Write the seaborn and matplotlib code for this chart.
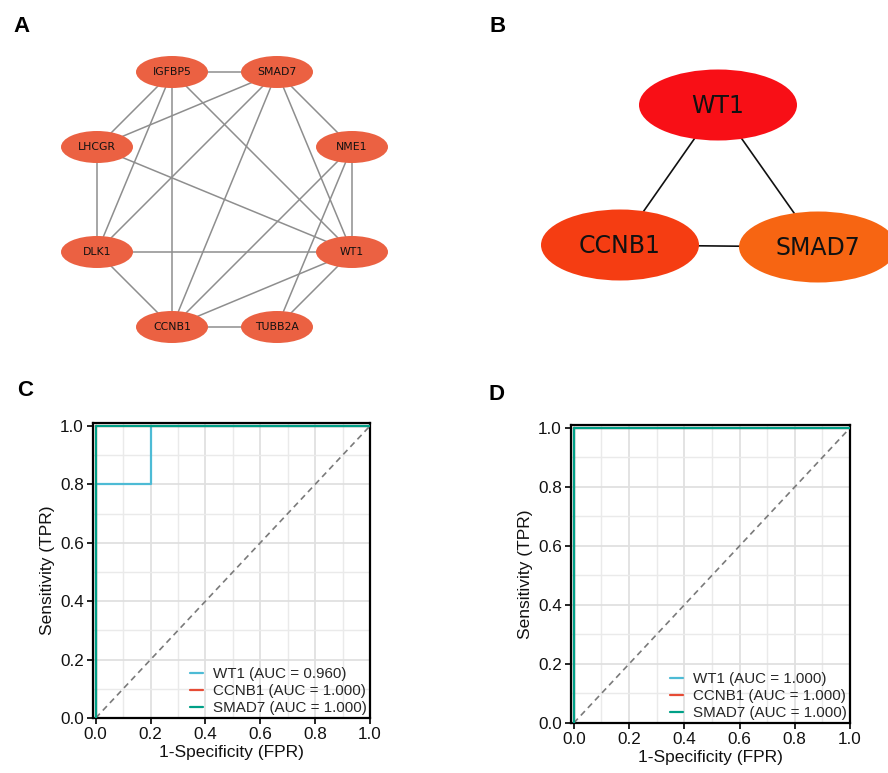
import numpy as np
import pandas as pd
import matplotlib
matplotlib.use("Agg")
import matplotlib.pyplot as plt
from matplotlib.patches import Ellipse
from matplotlib.lines import Line2D
from matplotlib.ticker import MultipleLocator, FormatStrFormatter
import seaborn as sns

# ---- PPI network of candidate genes (panel A), layout in pixels ----
ppi_genes = ["IGFBP5", "SMAD7", "LHCGR", "NME1", "DLK1", "WT1", "CCNB1", "TUBB2A"]
ppi_x = [172, 277, 97, 352, 97, 352, 172, 277]
ppi_y = [72, 72, 147, 147, 252, 252, 327, 327]
ppi_edges = [
    ("IGFBP5", "SMAD7"), ("IGFBP5", "LHCGR"), ("IGFBP5", "DLK1"),
    ("IGFBP5", "CCNB1"), ("IGFBP5", "WT1"),
    ("SMAD7", "LHCGR"), ("SMAD7", "DLK1"), ("SMAD7", "CCNB1"),
    ("SMAD7", "NME1"), ("SMAD7", "WT1"),
    ("LHCGR", "DLK1"), ("LHCGR", "WT1"),
    ("NME1", "WT1"), ("NME1", "CCNB1"), ("NME1", "TUBB2A"),
    ("DLK1", "WT1"), ("DLK1", "CCNB1"),
    ("WT1", "CCNB1"), ("WT1", "TUBB2A"),
    ("CCNB1", "TUBB2A"),
]

# ---- hub genes (panel B) ----
hub_genes = ["WT1", "CCNB1", "SMAD7"]
hub_x = [718, 620, 818]
hub_y = [105, 245, 247]
hub_colors = ["#F80F16", "#F53D12", "#F76512"]
hub_edges = [("WT1", "CCNB1"), ("WT1", "SMAD7"), ("CCNB1", "SMAD7")]

# ---- ROC curves (panels C and D) ----
roc_genes = ["WT1", "CCNB1", "SMAD7"]
roc_colors = ["#4DBBD5", "#E64B35", "#00A087"]

c_fpr = {"WT1": [0.0, 0.0, 0.2, 0.2, 1.0],
         "CCNB1": [0.0, 0.0, 1.0],
         "SMAD7": [0.0, 0.0, 1.0]}
c_tpr = {"WT1": [0.0, 0.8, 0.8, 1.0, 1.0],
         "CCNB1": [0.0, 1.0, 1.0],
         "SMAD7": [0.0, 1.0, 1.0]}

d_fpr = {"WT1": [0.0, 0.0, 1.0],
         "CCNB1": [0.0, 0.0, 1.0],
         "SMAD7": [0.0, 0.0, 1.0]}
d_tpr = {"WT1": [0.0, 1.0, 1.0],
         "CCNB1": [0.0, 1.0, 1.0],
         "SMAD7": [0.0, 1.0, 1.0]}

sns.set_theme(style="white")
plt.rcParams["font.family"] = ["Liberation Sans", "DejaVu Sans"]

W, H = 888, 773
fig = plt.figure(figsize=(W / 100, H / 100), dpi=100)
fig.patch.set_facecolor("white")

# overlay axes in pixel coordinates for the two networks
net = fig.add_axes([0, 0, 1, 1])
net.set_xlim(0, W)
net.set_ylim(H, 0)
net.axis("off")
net.patch.set_visible(False)

pos_a = {g: (x, y) for g, x, y in zip(ppi_genes, ppi_x, ppi_y)}
for a, b in ppi_edges:
    (x0, y0), (x1, y1) = pos_a[a], pos_a[b]
    net.plot([x0, x1], [y0, y1], color="#8E8E8E", lw=1.1, zorder=1,
             solid_capstyle="butt")
for g, (x, y) in pos_a.items():
    net.add_patch(Ellipse((x, y), 72, 32, facecolor="#EB6142",
                          edgecolor="none", zorder=2))
    net.text(x, y, g, ha="center", va="center", fontsize=7.8,
             family="DejaVu Sans", color="#111111", zorder=3)

pos_b = {g: (x, y) for g, x, y in zip(hub_genes, hub_x, hub_y)}
for a, b in hub_edges:
    (x0, y0), (x1, y1) = pos_b[a], pos_b[b]
    net.plot([x0, x1], [y0, y1], color="#111111", lw=1.2, zorder=1)
for g, c in zip(hub_genes, hub_colors):
    x, y = pos_b[g]
    net.add_patch(Ellipse((x, y), 158, 71, facecolor=c,
                          edgecolor="none", zorder=2))
    net.text(x, y + 1, g, ha="center", va="center", fontsize=17,
             family="DejaVu Sans", color="#111111", zorder=3)


def roc_axes(rect, fpr, tpr):
    ax = fig.add_axes(rect)
    rows = []
    for g in roc_genes:
        for k, (f, t) in enumerate(zip(fpr[g], tpr[g])):
            rows.append({"gene": g, "step": k, "fpr": f, "tpr": t})
    df = pd.DataFrame(rows)
    ax.plot([0, 1], [0, 1], ls=(0, (3.6, 2.6)), color="#7A7A7A", lw=1.2,
            zorder=2)
    sns.lineplot(data=df, x="fpr", y="tpr", hue="gene", hue_order=roc_genes,
                 palette=dict(zip(roc_genes, roc_colors)), sort=False,
                 estimator=None, lw=1.6, legend=False, ax=ax, zorder=3)
    ax.set_xlim(-0.01, 1.0)
    ax.set_ylim(0.0, 1.01)
    ax.xaxis.set_major_locator(MultipleLocator(0.2))
    ax.yaxis.set_major_locator(MultipleLocator(0.2))
    ax.xaxis.set_minor_locator(MultipleLocator(0.1))
    ax.yaxis.set_minor_locator(MultipleLocator(0.1))
    ax.xaxis.set_major_formatter(FormatStrFormatter("%.1f"))
    ax.yaxis.set_major_formatter(FormatStrFormatter("%.1f"))
    ax.set_axisbelow(True)
    ax.grid(which="major", color="#E0E0E0", lw=1.3)
    ax.grid(which="minor", color="#EAEAEA", lw=1.0)
    ax.tick_params(which="major", direction="out", length=4.5, width=1.2,
                   color="black", labelsize=12.3, labelcolor="#111111",
                   left=True, bottom=True, pad=2)
    ax.tick_params(which="minor", length=0)
    for s in ax.spines.values():
        s.set_color("black")
        s.set_linewidth(1.6)
    ax.set_xlabel("1-Specificity (FPR)", fontsize=12.5, color="#111111",
                  labelpad=2)
    ax.set_ylabel("Sensitivity (TPR)", fontsize=12.5, color="#111111",
                  labelpad=4)
    handles, labels = [], []
    for g, c in zip(roc_genes, roc_colors):
        auc = np.trapezoid(tpr[g], fpr[g])
        handles.append(Line2D([], [], color=c, lw=1.6))
        labels.append(f"{g} (AUC = {auc:.3f})")
    ax.legend(handles, labels, loc="lower right", frameon=False,
              fontsize=10.9, handlelength=0.85, handletextpad=0.65,
              labelspacing=0.2, borderpad=0.1, borderaxespad=0.1)
    return ax


roc_axes([93 / W, 1 - 718 / H, 277 / W, 295 / H], c_fpr, c_tpr)
roc_axes([571 / W, 1 - 723 / H, 279 / W, 298 / H], d_fpr, d_tpr)

for lab, x, y in [("A", 13, 26), ("B", 489, 27), ("C", 17, 391), ("D", 488, 394)]:
    fig.text(x / W, 1 - y / H, lab, ha="left", va="center", fontsize=16,
             weight="bold", color="black")

fig.savefig("out.png", dpi=100, facecolor="white")
